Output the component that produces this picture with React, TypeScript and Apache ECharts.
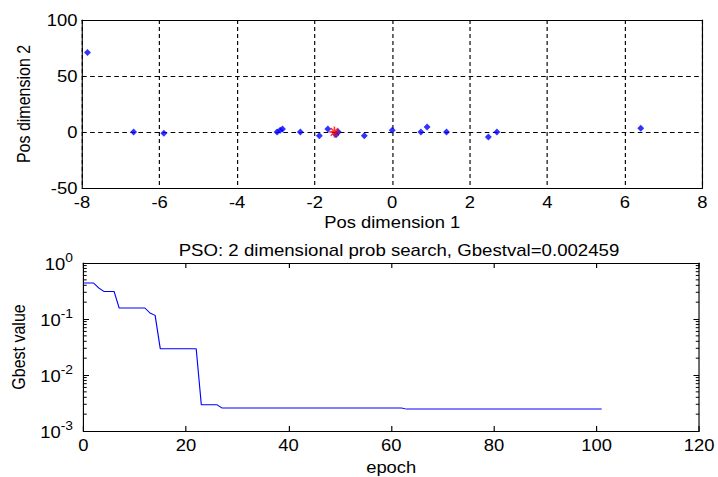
import React, { useEffect, useRef } from "react";
import * as echarts from "echarts";

// Top plot: particle positions
const particleX = [-7.86, -6.67, -5.89, -2.97, -2.89, -2.83, -2.37, -1.88, -1.66, -1.45, -1.39, -0.72, 0.0, 0.74, 0.9, 1.4, 2.48, 2.7, 6.41];
const particleY = [70.9, 0, -1.2, 0, 1.5, 2.7, 0, -3.3, 2.7, -2.4, 0, -3.3, 1.5, 0, 4.5, 0, -4.5, 0, 3.3];
const gbestPos = [-1.49, 0.1];

// Bottom plot: best value per epoch (change points)
const epochs = [0, 2, 3, 4, 6, 7, 12, 13, 14, 15, 22, 23, 26, 27, 62, 63, 101];
const gbestVals = [0.44, 0.44, 0.36, 0.31, 0.31, 0.157, 0.157, 0.128, 0.116, 0.0295, 0.0295, 0.00295, 0.00295, 0.00258, 0.00258, 0.002459, 0.002459];

const xTicksTop = { min: -8, max: 8, interval: 2 };
const yTicksTop = { min: -50, max: 100, interval: 50 };
const xTicksBottom = { min: 0, max: 120, interval: 20 };
const decades = [0.001, 0.01, 0.1];
const minorMultipliers = [2, 3, 4, 5, 6, 7, 8, 9];

const titleText = "PSO: 2 dimensional prob search, Gbestval=0.002459";

const FONT = "'Liberation Sans', Arial, sans-serif";
const TICK_FS = 16;
const NAME_FS = 16;
const TITLE_FS = 16.2;

// The reference figure is stretched horizontally; the chart is drawn narrower and scaled.
const STRETCH = 1.15;
const W = 718;
const H = 477;
const CW = Math.round(W / STRETCH);
const sx = (px: number) => px / STRETCH;

export default function App() {
  const ref = useRef<HTMLDivElement>(null);
  useEffect(() => {
    if (!ref.current) return;
    const chart = echarts.init(ref.current, undefined, { renderer: "svg" });
    const minorTicks: number[] = [];
    decades.forEach((d) => minorMultipliers.forEach((m) => minorTicks.push(+(d * m).toPrecision(3))));

    const axisLine = { show: true, onZero: false, lineStyle: { color: "#000", width: 1 } };
    const tickLabel = { color: "#000", fontSize: TICK_FS, fontFamily: FONT };
    const dashed = { show: true, lineStyle: { color: "#000", type: [4, 3] as any, width: 1 } };
    const inTick = { show: true, inside: true, length: 5, lineStyle: { color: "#000" } };
    const nameStyle = { fontSize: NAME_FS, color: "#000", fontFamily: FONT };

    const left = sx(82);
    const option: any = {
      animation: false,
      backgroundColor: "#fff",
      textStyle: { fontFamily: FONT },
      title: {
        text: titleText,
        left: sx(393),
        top: 237,
        textAlign: "center",
        textStyle: { fontSize: TITLE_FS, fontWeight: "normal", color: "#000", fontFamily: FONT },
      },
      grid: [
        { left, top: 20, width: sx(702) - left, height: 168 },
        { left, top: 263, width: sx(703) - left, height: 168 },
      ],
      xAxis: [
        {
          gridIndex: 0, type: "value", ...xTicksTop,
          axisLine, axisTick: { show: false },
          axisLabel: { ...tickLabel, margin: 6 },
          splitLine: dashed,
          name: "Pos dimension 1", nameLocation: "middle", nameGap: 26,
          nameTextStyle: nameStyle,
        },
        {
          gridIndex: 0, type: "value", position: "top", ...xTicksTop,
          axisLine, axisTick: { show: false }, axisLabel: { show: false }, splitLine: { show: false },
        },
        {
          gridIndex: 1, type: "value", ...xTicksBottom,
          axisLine, axisTick: inTick,
          axisLabel: { ...tickLabel, margin: 6 },
          splitLine: { show: false },
          name: "epoch", nameLocation: "middle", nameGap: 28,
          nameTextStyle: nameStyle,
        },
        {
          gridIndex: 1, type: "value", position: "top", ...xTicksBottom,
          axisLine, axisTick: inTick,
          axisLabel: { show: false }, splitLine: { show: false },
        },
      ],
      yAxis: [
        {
          gridIndex: 0, type: "value", ...yTicksTop,
          axisLine, axisTick: { show: false },
          axisLabel: { ...tickLabel, margin: 4 },
          splitLine: dashed,
          name: "Pos dimension 2", nameLocation: "middle", nameGap: 43,
          nameTextStyle: nameStyle,
        },
        {
          gridIndex: 0, type: "value", position: "right", ...yTicksTop,
          axisLine, axisTick: { show: false }, axisLabel: { show: false }, splitLine: { show: false },
        },
        {
          gridIndex: 1, type: "log", logBase: 10, min: 0.001, max: 1,
          axisLine, axisTick: inTick,
          axisLabel: {
            margin: 9,
            formatter: (v: number) => "{b|10}{s|" + Math.round(Math.log10(v)) + "}",
            rich: {
              b: { fontSize: TICK_FS, color: "#000", fontFamily: FONT, padding: [3, 0, 0, 0] },
              s: { fontSize: 12, color: "#000", fontFamily: FONT, verticalAlign: "top", padding: [0, 0, 10, 0] },
            },
          },
          splitLine: { show: false },
          name: "Gbest value", nameLocation: "middle", nameGap: 43,
          nameTextStyle: nameStyle,
        },
        {
          gridIndex: 1, type: "log", logBase: 10, min: 0.001, max: 1, position: "right",
          axisLine, axisTick: inTick,
          axisLabel: { show: false }, splitLine: { show: false },
        },
      ],
      series: [
        {
          type: "scatter", xAxisIndex: 0, yAxisIndex: 0,
          symbol: "diamond", symbolSize: [6, 7],
          itemStyle: { color: "#0000ff" },
          data: particleX.map((x, i) => [x, particleY[i]]),
          z: 3,
        },
        {
          type: "scatter", xAxisIndex: 0, yAxisIndex: 0,
          symbol: "path://M0,-5L0,5M-5,0L5,0M-3.5,-3.5L3.5,3.5M-3.5,3.5L3.5,-3.5",
          symbolSize: [9, 11],
          itemStyle: { color: "none", borderColor: "#ff0000", borderWidth: 1.5 },
          data: [gbestPos],
          z: 4,
        },
        {
          type: "line", xAxisIndex: 2, yAxisIndex: 2,
          showSymbol: false, symbol: "none",
          lineStyle: { color: "#0000ff", width: 1 },
          data: epochs.map((e, i) => [e, gbestVals[i]]),
        },
        {
          type: "custom", xAxisIndex: 2, yAxisIndex: 2, silent: true,
          data: minorTicks.map((v) => [0, v]),
          renderItem: (params: any, api: any) => {
            const p = api.coord([0, api.value(1)]);
            const cs = params.coordSys;
            const style = { stroke: "#000", lineWidth: 1 };
            return {
              type: "group",
              children: [
                { type: "line", shape: { x1: cs.x, y1: p[1], x2: cs.x + 3, y2: p[1] }, style },
                { type: "line", shape: { x1: cs.x + cs.width - 3, y1: p[1], x2: cs.x + cs.width, y2: p[1] }, style },
              ],
            };
          },
        },
      ],
    };
    chart.setOption(option);
    return () => chart.dispose();
  }, []);
  return (
    <div style={{ position: "fixed", left: 0, top: 0, width: W, height: H, overflow: "hidden", background: "#fff" }}>
      <div
        ref={ref}
        style={{ width: CW, height: H, transform: `scaleX(${W / CW})`, transformOrigin: "0 0" }}
      />
    </div>
  );
}
